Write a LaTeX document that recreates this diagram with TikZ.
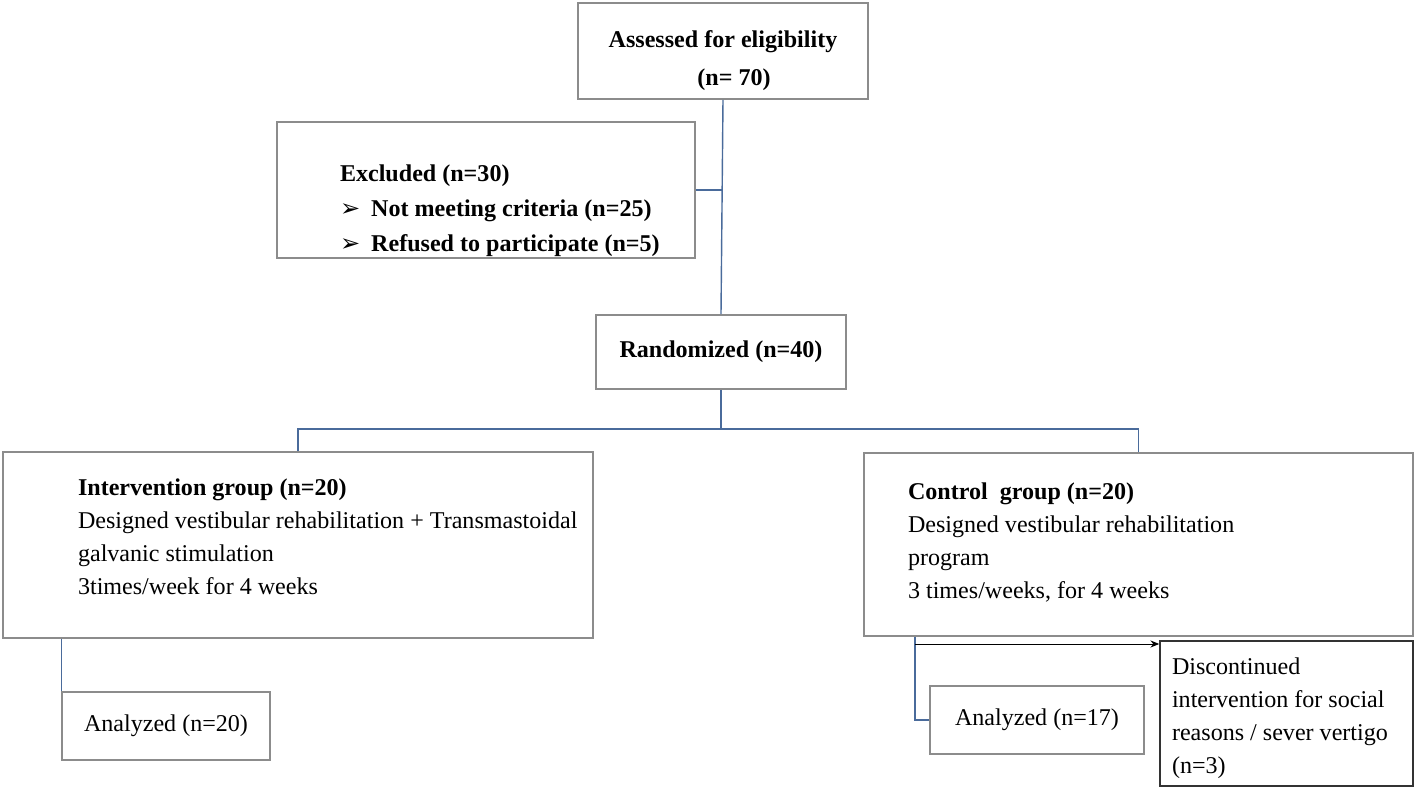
\documentclass[tikz,border=0pt]{standalone}
\usepackage{fontspec}
\setmainfont{Liberation Serif}
\newfontfamily\symfont{DejaVu Sans}
\usepackage{tikz}
\usetikzlibrary{arrows.meta}
\definecolor{linkblue}{HTML}{4A6B9B}
\definecolor{boxgray}{HTML}{8C8C8C}

% box text: width, left offset, vertical shift, lines
\newcommand{\boxlines}[4]{\makebox[#1][l]{\hspace*{#2}\raisebox{#3}[0pt][0pt]{\begin{tabular}[c]{@{}l@{}}#4\end{tabular}}}}

\tikzset{
  box/.style={draw=boxgray, line width=0.9pt, rectangle, inner sep=0pt, fill=white,
    font=\fontsize{13.7}{18.7}\selectfont},
  link/.style={draw=linkblue, line width=0.8pt},
  flow/.style={draw=black, line width=0.5pt, -{Stealth[length=5pt,width=4pt]}}
}

\begin{document}
\begin{tikzpicture}[x=0.02cm,y=-0.02cm]
\useasboundingbox (0,0) rectangle (1418,790);

\node[box, minimum width=5.8cm, minimum height=1.92cm,
  font=\fontsize{13.7}{21.5}\selectfont\bfseries] (assess) at (723,51)
  {\raisebox{-0.29cm}[0pt][0pt]{\begin{tabular}[c]{@{}c@{}}Assessed for eligibility\\ \hspace*{0.44cm}(n= 70)\end{tabular}}};
\node[box, minimum width=8.36cm, minimum height=2.72cm,
  font=\fontsize{13.7}{19.8}\selectfont\bfseries] (excl) at (486,190)
  {\boxlines{8.36cm}{1.26cm}{-0.52cm}{Excluded (n=30)\\
   {\symfont ➢}\hspace{0.22cm}Not meeting criteria (n=25)\\
   {\symfont ➢}\hspace{0.22cm}Refused to participate (n=5)}};
\node[box, minimum width=5cm, minimum height=1.48cm, font=\fontsize{13.7}{18.7}\selectfont\bfseries]
  (rand) at (721,352) {Randomized (n=40)};

\node[box, minimum width=11.8cm, minimum height=3.72cm] (interv) at (298,545)
  {\boxlines{11.8cm}{1.5cm}{0cm}{\textbf{Intervention group (n=20)}\\
   Designed vestibular rehabilitation + Transmastoidal\\
   galvanic stimulation\\
   3times/week for 4 weeks}};
\node[box, minimum width=10.98cm, minimum height=3.66cm] (control) at (1138.5,544.5)
  {\boxlines{10.98cm}{0.88cm}{-0.08cm}{\textbf{Control~ group (n=20)}\\
   Designed vestibular rehabilitation\\
   program\\
   3 times/weeks, for 4 weeks}};

\node[box, minimum width=4.16cm, minimum height=1.36cm] (an20) at (166,726) {Analyzed (n=20)};
\node[box, minimum width=4.28cm, minimum height=1.36cm] (an17) at (1037,720) {Analyzed (n=17)};
\node[box, draw=black!80, minimum width=5.06cm, minimum height=2.9cm] (disc) at (1286.5,713.5)
  {\boxlines{5.06cm}{0.24cm}{-0.2cm}{Discontinued\\
   intervention for social\\
   reasons / sever vertigo\\
   (n=3)}};

\coordinate (split) at (721,429);
\coordinate (fork) at (915,644);

\draw[link] (assess.south) -- (rand.north);
\draw[link] (excl.east) -- (excl.east -| assess.south);
\draw[link] (rand.south) -- (split);
\draw[link] (interv.north) |- (split) -| (control.north);
\draw[link] (an20.north west |- interv.south) -- (an20.north west);
\draw[link] (fork |- control.south) |- (an17.west);
\draw[flow] (fork) -- (fork -| disc.west);
\end{tikzpicture}
\end{document}
